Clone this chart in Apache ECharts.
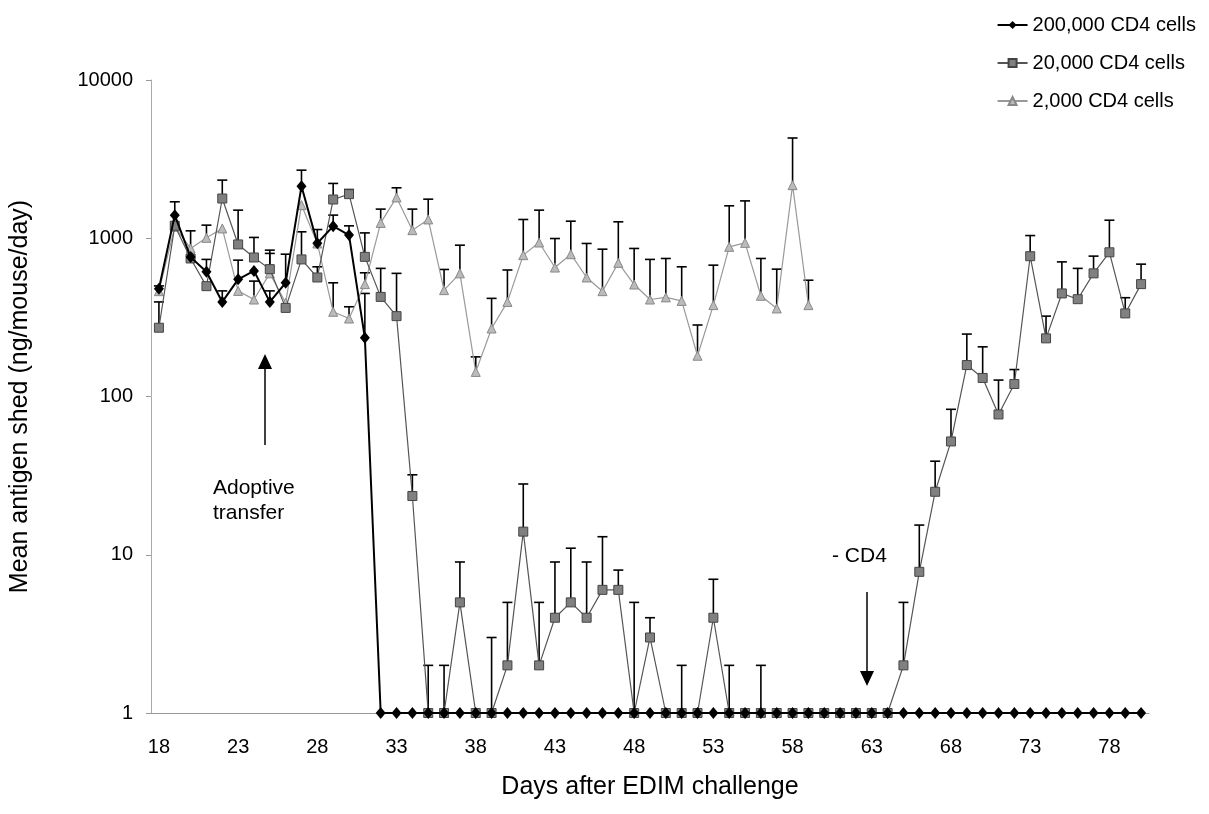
<!DOCTYPE html>
<html>
<head>
<meta charset="utf-8">
<script src="https://cdn.jsdelivr.net/npm/echarts@6/dist/echarts.min.js"></script>
<style>
  html, body { margin: 0; padding: 0; background: #fff; }
  #chart { width: 1209px; height: 814px; }
</style>
</head>
<body>
<div id="chart"></div>
<script>
// days 18..80
const days = [];
for (let d = 18; d <= 80; d++) days.push(String(d));

// 200,000 CD4 cells
const cells200k = [480, 1400, 760, 614, 396, 550, 622, 396, 523, 2133, 930, 1192, 1047, 235,
  1, 1, 1, 1, 1, 1, 1, 1, 1, 1, 1, 1, 1, 1, 1, 1, 1, 1, 1, 1, 1, 1, 1, 1, 1, 1,
  1, 1, 1, 1, 1, 1, 1, 1, 1, 1, 1, 1, 1, 1, 1, 1, 1, 1, 1, 1, 1, 1, 1];
const err200k = [null, 1700, null, 735, 465, 727, null, 465, 793, 2693, null, 1400, 1198, 448];

// 20,000 CD4 cells
const cells20k = [272, 1200, 745, 498, 1783, 914, 756, 638, 363, 735, 565, 1757, 1900, 763,
  426, 322, 23.5, 1, 1, 5, 1, 1, 2, 14, 2, 4, 5, 4, 6, 6, 1, 3, 1, 1, 1, 4, 1, 1, 1,
  1, 1, 1, 1, 1, 1, 1, 1, 2, 7.8, 25, 52, 158, 131, 77, 120, 770, 233, 448, 412, 600, 815, 335, 513];
const err20k = [396, null, null, null, 2330, 1505, 1012, 841, null, 1098, 660, 2220, 2032, 1081,
  645, 600, 32, 2, 2, 9, null, 3, 5, 28, 5, 9, 11, 9, 13, 8, 5, 4, null, 2, null, 7, 2, null, 2,
  null, null, null, null, null, null, null, null, 5, 15.4, 39, 83, 248, 206, 127, 148, 1040, 322, 709, 645, 771, 1300, 421, 686];

// 2,000 CD4 cells (days 18..59)
const cells2k = [463, 1180, 862, 1006, 1153, 465, 410, 600, 391, 1620, 927, 343, 311, 513,
  1250, 1811, 1125, 1315, 470, 600, 143, 269, 396, 782, 940, 653, 793, 565, 463, 699, 510,
  410, 423, 402, 181, 378, 883, 935, 433, 360, 2165, 378];
const err2k = [500, null, 1114, 1210, null, null, 536, 802, null, null, 1135, 523, 369, 605,
  1528, 2083, 1528, 1766, 635, 904, 178, 417, 630, 1314, 1505, 996, 1282, 927, 853, 1270, 862,
  735, 745, 660, 283, 676, 1603, 1722, 745, 638, 4300, 543];

function errData(vals, errs) {
  const out = [];
  errs.forEach((e, i) => {
    if (e != null) out.push([days[i], vals[i], e]);
  });
  return out;
}

function renderErr(params, api) {
  const base = api.coord([api.value(0), api.value(1)]);
  const top = api.coord([api.value(0), api.value(2)]);
  const st = { stroke: '#000', lineWidth: 1.6 };
  return {
    type: 'group',
    children: [
      { type: 'line', shape: { x1: base[0], y1: base[1], x2: top[0], y2: top[1] }, style: st },
      { type: 'line', shape: { x1: top[0] - 5, y1: top[1], x2: top[0] + 5, y2: top[1] }, style: st }
    ]
  };
}

const chart = echarts.init(document.getElementById('chart'));
const font = '"Liberation Sans", Arial, sans-serif';

chart.setOption({
  animation: false,
  textStyle: { fontFamily: font },
  grid: { left: 145, right: 60, top: 80, bottom: 101 },
  legend: {
    orient: 'vertical',
    right: 8,
    top: 10,
    itemWidth: 30,
    itemHeight: 10,
    itemGap: 18,
    textStyle: { fontSize: 20, color: '#000', fontFamily: font },
    data: ['200,000 CD4 cells', '20,000 CD4 cells', '2,000 CD4 cells']
  },
  xAxis: {
    type: 'category',
    data: days,
    boundaryGap: true,
    name: 'Days after EDIM challenge',
    nameLocation: 'middle',
    nameGap: 62,
    nameTextStyle: { fontSize: 25, color: '#000' },
    axisLine: { lineStyle: { color: '#999', width: 1 } },
    axisTick: { interval: 4, length: 5, lineStyle: { color: '#999' } },
    axisLabel: { interval: 4, fontSize: 20, color: '#000', margin: 24 }
  },
  yAxis: {
    type: 'log',
    logBase: 10,
    min: 1,
    max: 10000,
    name: 'Mean antigen shed (ng/mouse/day)',
    nameLocation: 'middle',
    nameGap: 118,
    nameTextStyle: { fontSize: 25, color: '#000' },
    axisLine: { show: true, lineStyle: { color: '#aaa', width: 1 } },
    axisTick: { show: true, length: 5, lineStyle: { color: '#999' } },
    axisLabel: { fontSize: 20, color: '#000', margin: 18, formatter: v => String(Math.round(v)) },
    splitLine: { show: false }
  },
  series: [
    {
      type: 'custom', name: 'err2k', renderItem: renderErr, data: errData(cells2k, err2k),
      encode: { x: 0, y: [1, 2] }, z: 1, silent: true
    },
    {
      type: 'custom', name: 'err20k', renderItem: renderErr, data: errData(cells20k, err20k),
      encode: { x: 0, y: [1, 2] }, z: 1, silent: true
    },
    {
      type: 'custom', name: 'err200k', renderItem: renderErr, data: errData(cells200k, err200k),
      encode: { x: 0, y: [1, 2] }, z: 1, silent: true
    },
    {
      name: '2,000 CD4 cells', type: 'line', data: cells2k, z: 3,
      symbol: 'triangle', symbolSize: 9, showAllSymbol: true,
      lineStyle: { color: '#999', width: 1.2 },
      itemStyle: { color: '#bbb', borderColor: '#888', borderWidth: 1 }
    },
    {
      name: '20,000 CD4 cells', type: 'line', data: cells20k, z: 4,
      symbol: 'rect', symbolSize: 9, showAllSymbol: true,
      lineStyle: { color: '#555', width: 1.2 },
      itemStyle: { color: '#808080', borderColor: '#444', borderWidth: 1 }
    },
    {
      name: '200,000 CD4 cells', type: 'line', data: cells200k, z: 5,
      symbol: 'diamond', symbolSize: [10, 12], showAllSymbol: true,
      lineStyle: { color: '#000', width: 2 },
      itemStyle: { color: '#000' }
    }
  ],
  graphic: [
    { type: 'text', left: 213, top: 476, style: { text: 'Adoptive\ntransfer', fontSize: 21, lineHeight: 25, fill: '#000', fontFamily: font } },
    { type: 'line', shape: { x1: 265, y1: 445, x2: 265, y2: 366 }, style: { stroke: '#000', lineWidth: 1.5 } },
    { type: 'polygon', shape: { points: [[265, 354], [258, 369], [272, 369]] }, style: { fill: '#000' } },
    { type: 'text', left: 832, top: 546, style: { text: '- CD4', fontSize: 21, fill: '#000', fontFamily: font } },
    { type: 'line', shape: { x1: 867, y1: 592, x2: 867, y2: 673 }, style: { stroke: '#000', lineWidth: 1.5 } },
    { type: 'polygon', shape: { points: [[867, 686], [860, 671], [874, 671]] }, style: { fill: '#000' } }
  ]
});
</script>
</body>
</html>
